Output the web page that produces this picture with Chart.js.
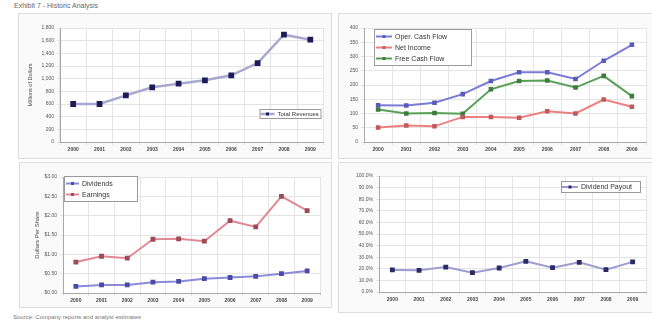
<!DOCTYPE html>
<html>
<head>
<meta charset="utf-8">
<script src="https://cdn.jsdelivr.net/npm/chart.js@4/dist/chart.umd.min.js"></script>
<style>
body { margin: 0; background: #fff; width: 652px; height: 322px; position: relative; overflow: hidden; font-family: "Liberation Sans", Arial, sans-serif; }
.title { position: absolute; left: 14px; top: 2px; font-size: 7px; color: #666; white-space: nowrap; }
.src { position: absolute; left: 13px; top: 314px; font-size: 6px; color: #777; white-space: nowrap; }
.panel { position: absolute; border: 1px solid #dcdcdc; background: #fafafa; box-sizing: border-box; }
canvas { position: absolute; }
</style>
</head>
<body>
<div class="title">Exhibit 7 - Historic Analysis</div>

<div class="panel" style="left:18px;top:13px;width:314px;height:146px"></div>
<div class="panel" style="left:338px;top:13px;width:316px;height:146px"></div>
<div class="panel" style="left:19px;top:162px;width:313px;height:146px"></div>
<div class="panel" style="left:338px;top:162px;width:316px;height:151px"></div>

<canvas id="c1" width="312" height="146" style="left:18px;top:13px"></canvas>
<canvas id="c2" width="314" height="146" style="left:338px;top:13px"></canvas>
<canvas id="c3" width="310" height="146" style="left:20px;top:162px"></canvas>
<canvas id="c4" width="314" height="150" style="left:338px;top:162px"></canvas>

<div class="src">Source: Company reports and analyst estimates</div>

<script>
// 年度
const years = ['2000', '2001', '2002', '2003', '2004', '2005', '2006', '2007', '2008', '2009'];

// 營收 (百萬美元)
const revenues = [600, 600, 737, 863, 921, 974, 1053, 1247, 1695, 1616];

// 現金流量 (百萬美元)
const operCashFlow = [129, 128, 138, 168, 214, 245, 245, 221, 285, 341];
const netIncome = [51, 58, 55, 88, 88, 85, 108, 100, 149, 124];
const freeCashFlow = [114, 100, 102, 99, 185, 214, 216, 191, 232, 161];

// 每股資料 (美元)
const dividends = [0.17, 0.21, 0.21, 0.28, 0.30, 0.37, 0.40, 0.43, 0.50, 0.57];
const earnings = [0.80, 0.95, 0.90, 1.39, 1.40, 1.34, 1.87, 1.71, 2.50, 2.13];

// 配息率 (%)
const payoutRatio = [19.0, 18.7, 21.5, 16.7, 20.7, 26.4, 21.0, 25.6, 19.3, 26.0];

const gridColor = '#e4e4e4';
const axisColor = '#a8a8a8';

// 畫在圖區內、有外框的圖例
const boxLegend = {
    id: 'boxLegend',
    beforeDraw(chart) {
        const a = chart.chartArea;
        chart.ctx.save();
        chart.ctx.fillStyle = '#fff';
        chart.ctx.fillRect(a.left, a.top, a.right - a.left, a.bottom - a.top);
        chart.ctx.restore();
    },
    afterDraw(chart, args, opts) {
        if (!opts || !opts.font) return;
        const ctx = chart.ctx, a = chart.chartArea;
        const items = chart.data.datasets;
        ctx.save();
        ctx.font = opts.font;
        const textW = Math.max(...items.map(d => ctx.measureText(d.label).width));
        const w = opts.width || (opts.pad * 2 + opts.sample + 3 + textW);
        const h = opts.pad * 2 + opts.rowH * items.length;
        const x = opts.align === 'right' ? a.right - opts.dx - w : a.left + opts.dx;
        const y = opts.valign === 'bottom' ? a.bottom - opts.dy - h : a.top + opts.dy;
        ctx.fillStyle = '#fff';
        ctx.fillRect(x, y, w, h);
        ctx.strokeStyle = '#9a9a9a';
        ctx.lineWidth = 1;
        ctx.strokeRect(x + 0.5, y + 0.5, w - 1, h - 1);
        items.forEach((d, i) => {
            const cy = y + opts.pad + opts.rowH * i + opts.rowH / 2;
            ctx.strokeStyle = d.borderColor;
            ctx.lineWidth = d.borderWidth;
            ctx.beginPath();
            ctx.moveTo(x + opts.pad, cy);
            ctx.lineTo(x + opts.pad + opts.sample, cy);
            ctx.stroke();
            ctx.fillStyle = d.pointBackgroundColor;
            ctx.fillRect(x + opts.pad + opts.sample / 2 - 1.5, cy - 1.5, 3, 3);
            ctx.fillStyle = '#333';
            ctx.textBaseline = 'middle';
            ctx.fillText(d.label, x + opts.pad + opts.sample + 3, cy + 0.5);
        });
        ctx.restore();
    }
};

function series(label, data, line, point, width, radius) {
    return {
        label: label,
        data: data,
        borderColor: line,
        backgroundColor: point,
        pointBackgroundColor: point,
        pointBorderColor: point,
        borderWidth: width || 2,
        pointStyle: 'rect',
        pointRadius: radius || 2.3,
        tension: 0
    };
}

function makeChart(id, datasets, yAxis, box, legend) {
    return new Chart(document.getElementById(id), {
        type: 'line',
        data: { labels: years, datasets: datasets },
        plugins: [boxLegend],
        options: {
            responsive: false,
            animation: false,
            layout: { padding: { top: box.top, right: box.right, left: box.left, bottom: 0 } },
            plugins: {
                legend: { display: false },
                tooltip: { enabled: false },
                boxLegend: legend
            },
            scales: {
                x: {
                    offset: true,
                    grid: { offset: true, color: gridColor, tickLength: 3 },
                    border: { color: axisColor },
                    ticks: { font: { size: 5, weight: 'bold' }, color: '#444', padding: 2, maxRotation: 0 },
                    afterFit: s => { s.height = box.xh; }
                },
                y: Object.assign({
                    grid: { color: gridColor, tickLength: 3 },
                    border: { color: axisColor },
                    afterFit: s => { s.width = box.yw; }
                }, yAxis)
            }
        }
    });
}

const tickFont = { size: 5 };

// 營收
makeChart('c1', [
    series('Total Revenues', revenues, '#a9a9d0', '#1c1c5a', 2.5)
], {
    min: 0, max: 1800,
    ticks: { stepSize: 200, font: tickFont, color: '#555', padding: 3,
        callback: v => v.toLocaleString('en-US') },
    title: { display: true, text: 'Millions of Dollars', font: { size: 5.5 }, color: '#444', padding: 0 }
}, { top: 15, right: 2, left: 9, yw: 33, xh: 17 },
{ font: '6px "Liberation Sans", Arial', rowH: 8, pad: 1, sample: 14, align: 'right', valign: 'bottom', dx: 2, dy: 23, width: 62 });

// 現金流量
makeChart('c2', [
    series('Oper. Cash Flow', operCashFlow, '#7b7bd8', '#5a5ab8', 2, 1.8),
    series('Net Income', netIncome, '#ee8080', '#c05a5a', 2, 1.8),
    series('Free Cash Flow', freeCashFlow, '#58a058', '#3c7c3c', 2, 1.8)
], {
    min: 0, max: 400,
    ticks: { stepSize: 50, font: tickFont, color: '#555', padding: 3 }
}, { top: 15, right: 1, left: 4, yw: 22, xh: 17 },
{ font: '7px "Liberation Sans", Arial', rowH: 11, pad: 2, sample: 16, align: 'left', valign: 'top', dx: 10, dy: 1, width: 98 });

// 每股盈餘與股利
makeChart('c3', [
    series('Dividends', dividends, '#8a8ad8', '#4a4aa8', 2, 2),
    series('Earnings', earnings, '#e08a96', '#a04a58', 2, 2)
], {
    min: 0, max: 3,
    ticks: { stepSize: 0.5, font: tickFont, color: '#555', padding: 3,
        callback: v => '$' + v.toFixed(2) },
    title: { display: true, text: 'Dollars Per Share', font: { size: 6 }, color: '#444', padding: 0 }
}, { top: 15, right: 10, left: 14, yw: 29, xh: 15 },
{ font: '7px "Liberation Sans", Arial', rowH: 11, pad: 2, sample: 13, align: 'left', valign: 'top', dx: 1, dy: -1, width: 74 });

// 配息率
makeChart('c4', [
    series('Dividend Payout', payoutRatio, '#9c9cd0', '#2a2a66', 2, 2)
], {
    min: 0, max: 100,
    ticks: { stepSize: 10, font: tickFont, color: '#555', padding: 3,
        callback: v => v.toFixed(1) + '%' }
}, { top: 14, right: 2, left: 8, yw: 33, xh: 20 },
{ font: '7px "Liberation Sans", Arial', rowH: 10, pad: 1, sample: 16, align: 'right', valign: 'top', dx: 5, dy: 5, width: 80 });
</script>
</body>
</html>
